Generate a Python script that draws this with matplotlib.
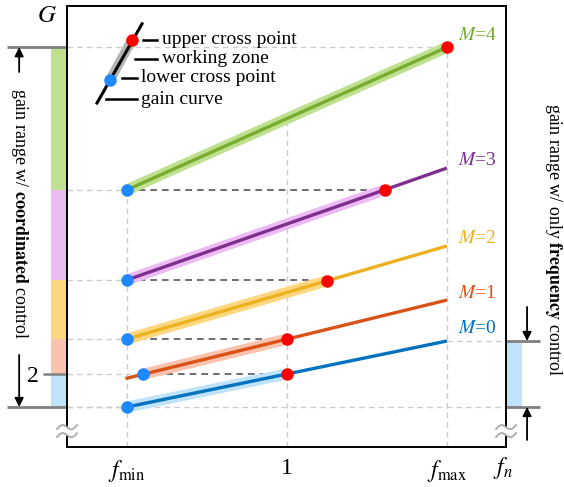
import matplotlib.pyplot as plt
import matplotlib.transforms as mtransforms
from matplotlib.patches import Rectangle
import numpy as np

plt.rcParams['font.family'] = ['Liberation Serif', 'DejaVu Serif']
plt.rcParams['mathtext.fontset'] = 'stix'

# gain curve of each M, straight line between two end points (f, G)
modes = [0, 1, 2, 3, 4]
x_start = [0.0, -0.01, 0.0, 0.0, 0.0]
x_end = [2.0, 2.0, 2.0, 2.0, 2.0]
g_start = [1.0, 1.86, 3.06, 4.85, 7.58]
g_end = [3.0, 4.24, 5.88, 8.24, 11.9]

# working zone of each curve: lower and upper cross point (f)
zone_lo = [0.0, 0.1, 0.0, 0.0, 0.0]
zone_hi = [1.0, 1.0, 1.25, 1.61, 2.0]

# height of the "M=.." labels at the right end
label_g = [3.39, 4.45, 6.12, 8.48, 12.27]

x_ticks = [0, 1, 2]
x_ticklabels = [r'$f_{\rm min}$', '1', r'$f_{\rm max}$']
y_ticks = [2]
y_ticklabels = ['2']

line_colors = ['#0072BD', '#D95319', '#EDB120', '#7E2F8E', '#77AC30']
band_colors = ['#BFE3FA', '#FBC3AD', '#FDD77F', '#EDBBF4', '#BFE08F']
dot_blue = '#1E88FF'
dot_red = '#FF0000'
light = '#CCCCCC'
grey = '#808080'


def gain(i, f):
    return np.interp(f, [x_start[i], x_end[i]], [g_start[i], g_end[i]])


def main():
    fig = plt.figure(figsize=(5.64, 4.87), dpi=100)
    ax = fig.add_axes([67 / 564, 1 - 447 / 487, 439 / 564, 441 / 487])
    ax.set_xlim(-0.375, 2.369)
    ax.set_ylim(-0.212, 13.15)

    g_lo = [gain(i, zone_lo[i]) for i in range(len(modes))]
    g_hi = [gain(i, zone_hi[i]) for i in range(len(modes))]

    dash_kw = dict(color=light, lw=1.0, dashes=(4, 3), zorder=1)
    # guide lines to the frequency ticks
    ax.plot([0, 0], [-0.212, g_lo[4]], **dash_kw)
    ax.plot([1, 1], [-0.212, gain(4, 1)], **dash_kw)
    ax.plot([2, 2], [-0.212, g_hi[4]], **dash_kw)
    # guide lines from the G axis to the lower cross points
    for i in range(len(modes)):
        ax.plot([-0.375, zone_lo[i]], [g_lo[i], g_lo[i]], **dash_kw)
    ax.plot([-0.375, 2], [g_hi[4], g_hi[4]], **dash_kw)
    ax.plot([-0.375, 2.369], [g_start[0], g_start[0]], **dash_kw)
    ax.plot([2, 2.369], [g_end[0], g_end[0]], **dash_kw)

    # upper cross point of M meets lower cross point of M+1
    for i in range(len(modes) - 1):
        ax.plot([zone_lo[i + 1], zone_hi[i]], [g_lo[i + 1], g_lo[i + 1]],
                color='#555555', lw=1.2, dashes=(4, 3), zorder=2)

    for i, m in enumerate(modes):
        ax.plot([zone_lo[i], zone_hi[i]], [g_lo[i], g_hi[i]],
                color=band_colors[i], lw=8, solid_capstyle='butt', zorder=3)
        ax.plot([x_start[i], x_end[i]], [g_start[i], g_end[i]],
                color=line_colors[i], lw=2.4, solid_capstyle='butt', zorder=4)
        ax.plot(zone_lo[i], g_lo[i], 'o', color=dot_blue, ms=9, mec='none', zorder=6)
        ax.plot(zone_hi[i], g_hi[i], 'o', color=dot_red, ms=9, mec='none', zorder=6)
        ax.text(2.07, label_g[i], '$M$=%d' % m, color=line_colors[i],
                fontsize=14, ha='left', va='center')

    # legend sketch in the upper left corner
    ax.plot([-0.106, 0.031], [10.91, 12.12], color='#B4B4B4', lw=7,
            solid_capstyle='butt', zorder=3)
    ax.plot([-0.1875, 0.094], [10.21, 12.61], color='k', lw=2.2, zorder=4)
    ax.plot(0.031, 12.12, 'o', color=dot_red, ms=9, mec='none', zorder=6)
    ax.plot(-0.106, 10.91, 'o', color=dot_blue, ms=9, mec='none', zorder=6)
    legend_rows = [
        (0.10, 0.19, 12.12, 'upper cross point'),
        (0.05, 0.19, 11.55, 'working zone'),
        (-0.03, 0.06, 10.97, 'lower cross point'),
        (-0.13, 0.06, 10.33, 'gain curve'),
    ]
    for x0, x1, g, txt in legend_rows:
        ax.plot([x0, x1], [g, g], color='k', lw=1.8, zorder=4)
        ax.text(x1 + 0.03, g, txt, fontsize=14, ha='left', va='center')

    # axes, ticks
    for sp in ax.spines.values():
        sp.set_linewidth(1.4)
    ax.set_xticks(x_ticks)
    ax.set_xticklabels(x_ticklabels, fontsize=17)
    ax.tick_params(axis='x', length=0, pad=8)
    ax.set_yticks(y_ticks)
    ax.set_yticklabels(y_ticklabels, fontsize=17)
    ax.tick_params(axis='y', length=17, width=1.8, color=grey, pad=3)
    ax.text(-0.046, 0.978, '$G$', transform=ax.transAxes, fontsize=18,
            ha='center', va='center')
    ax.text(0.993, -0.048, '$f_n$', transform=ax.transAxes, fontsize=17,
            ha='center', va='center')

    tr = mtransforms.blended_transform_factory(ax.transAxes, ax.transData)

    # gain range with coordinated control (left)
    bounds = g_lo + [g_hi[4]]
    for i in range(len(modes)):
        ax.add_patch(Rectangle((-0.0364, bounds[i]), 0.0364, bounds[i + 1] - bounds[i],
                               transform=tr, color=band_colors[i], clip_on=False, lw=0))
    for g in [bounds[0], bounds[-1]]:
        ax.plot([-0.137, 0], [g, g], transform=tr, color=grey, lw=2, clip_on=False,
                solid_capstyle='butt')
    arrow = dict(arrowstyle='-|>', color='k', lw=1.3, shrinkA=0, shrinkB=0,
                 mutation_scale=13)
    ax.annotate('', xy=(-0.109, bounds[-1]), xytext=(-0.109, 11.15),
                xycoords=tr, textcoords=tr, arrowprops=arrow)
    ax.annotate('', xy=(-0.109, bounds[0]), xytext=(-0.109, 2.58),
                xycoords=tr, textcoords=tr, arrowprops=arrow)
    ax.text(-0.109, 6.85, r'gain range w/ $\mathbf{coordinated}$ control',
            transform=tr, rotation=-90, fontsize=13, ha='center', va='center')

    # gain range with only frequency control (right)
    ax.add_patch(Rectangle((1.0, g_start[0]), 0.036, g_end[0] - g_start[0],
                           transform=tr, color=band_colors[0], clip_on=False, lw=0))
    for g in [g_start[0], g_end[0]]:
        ax.plot([1.0, 1.077], [g, g], transform=tr, color=grey, lw=2, clip_on=False,
                solid_capstyle='butt')
    ax.annotate('', xy=(1.048, g_end[0]), xytext=(1.048, 4.03),
                xycoords=tr, textcoords=tr, arrowprops=arrow)
    ax.annotate('', xy=(1.048, g_start[0]), xytext=(1.048, 0.0),
                xycoords=tr, textcoords=tr, arrowprops=arrow)
    ax.text(1.108, 6.06, r'gain range w/ only $\mathbf{frequency}$ control',
            transform=tr, rotation=-90, fontsize=13, ha='center', va='center')

    # axis break marks on both spines
    t = np.linspace(-1, 1, 50)
    wave_x = 0.1 * t
    wave_y = -0.03 * np.sin(np.pi * t) + 0.02 * t
    for xa in [0.0, 1.0]:
        brk = fig.dpi_scale_trans + mtransforms.ScaledTranslation(xa, 0.036, ax.transAxes)
        ax.fill_between(wave_x, wave_y - 0.04, wave_y + 0.04, transform=brk,
                        color='white', lw=0, clip_on=False, zorder=5)
        for dy in [0.04, -0.04]:
            ax.plot(wave_x, wave_y + dy, transform=brk, color='#AAAAAA', lw=1.3,
                    clip_on=False, zorder=6)

    fig.savefig('out.png', dpi=100)


if __name__ == '__main__':
    main()
